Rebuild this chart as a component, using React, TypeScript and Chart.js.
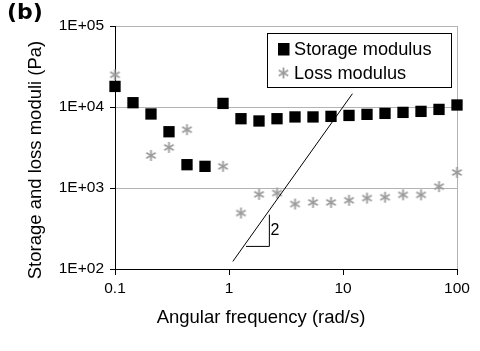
import React, { useEffect, useRef } from 'react';
import { Chart, registerables } from 'chart.js';

Chart.register(...registerables);

// ---- data ----
const frequencies = [0.1, 0.1438, 0.2069, 0.2976, 0.4281, 0.6158, 0.8859, 1.274, 1.833, 2.637, 3.793, 5.456, 7.848, 11.29, 16.24, 23.36, 33.6, 48.33, 69.52, 100];
const storageModulus = [17950, 11300, 8200, 4950, 1940, 1850, 11070, 7170, 6720, 7170, 7540, 7540, 7660, 7870, 8110, 8340, 8580, 8830, 9340, 10590];
const lossModulus = [25000, null, 2520, 3170, 5250, null, 1850, 491, 835, 866, 634, 664, 664, 705, 750, 770, 823, 823, 1040, 1555];
const slopeLineX = [1.08, 12.1];
const slopeLineY = [124, 14600];
const triangleX = [1.41, 2.26, 2.26];
const triangleY = [190, 190, 468];
const slopeLabel = '2';
const slopeLabelX = 2.53;
const slopeLabelY = 300;
const xTickValues = [0.1, 1, 10, 100];
const xTickLabels = ['0.1', '1', '10', '100'];
const yTickValues = [100, 1000, 10000, 100000];
const yTickLabels = ['1E+02', '1E+03', '1E+04', '1E+05'];
const seriesNames = ['Storage modulus', 'Loss modulus'];
const xTitle = 'Angular frequency (rad/s)';
const yTitle = 'Storage and loss moduli (Pa)';
const panelLabel = '(b)';

const FONT = "'Liberation Sans', Arial, sans-serif";
const GRID = '#b3b3b3';
const LOSS_COLOR = '#9c9c9c';

function makeAsterisk(color: string): HTMLCanvasElement {
  const c = document.createElement('canvas');
  c.width = 13;
  c.height = 13;
  const ctx = c.getContext('2d')!;
  ctx.strokeStyle = color;
  ctx.lineWidth = 1.8;
  const cx = 6.5, cy = 6.5, r = 5.5;
  for (let i = 0; i < 3; i++) {
    const a = Math.PI / 2 + (i * Math.PI) / 3;
    ctx.beginPath();
    ctx.moveTo(cx + r * Math.cos(a), cy + r * Math.sin(a));
    ctx.lineTo(cx - r * Math.cos(a), cy - r * Math.sin(a));
    ctx.stroke();
  }
  return c;
}

export default function App() {
  const ref = useRef<HTMLCanvasElement | null>(null);

  useEffect(() => {
    if (!ref.current) return;
    const asterisk = makeAsterisk(LOSS_COLOR);

    const overlay = {
      id: 'overlay',
      afterDraw(chart: any) {
        const ctx = chart.ctx;
        const xs = chart.scales.x;
        const ys = chart.scales.y;
        ctx.save();
        // panel label
        ctx.fillStyle = '#000';
        ctx.font = "bold 22px 'DejaVu Sans', sans-serif";
        ctx.textAlign = 'left';
        ctx.textBaseline = 'alphabetic';
        ctx.fillText(panelLabel, 7, 19);
        // x title
        ctx.font = `18.5px ${FONT}`;
        ctx.textAlign = 'center';
        ctx.fillText(xTitle, 261, 323);
        // y title
        ctx.save();
        ctx.translate(40.5, 160);
        ctx.rotate(-Math.PI / 2);
        ctx.fillText(yTitle, 0, 0);
        ctx.restore();
        // slope label
        ctx.font = `16px ${FONT}`;
        ctx.textBaseline = 'middle';
        ctx.fillText(slopeLabel, xs.getPixelForValue(slopeLabelX), ys.getPixelForValue(slopeLabelY));
        // legend
        const lx = 267.5, ly = 33.5, lw = 184, lh = 54;
        ctx.fillStyle = '#fff';
        ctx.fillRect(lx, ly, lw, lh);
        ctx.strokeStyle = '#000';
        ctx.lineWidth = 1;
        ctx.strokeRect(lx, ly, lw, lh);
        ctx.fillStyle = '#000';
        ctx.fillRect(278, 43, 11.5, 12.5);
        ctx.drawImage(asterisk, 283.5 - 6.5, 73 - 6.5);
        ctx.font = `18.2px ${FONT}`;
        ctx.textAlign = 'left';
        ctx.textBaseline = 'middle';
        ctx.fillStyle = '#000';
        ctx.fillText(seriesNames[0], 294, 49.5);
        ctx.fillText(seriesNames[1], 294, 73.5);
        ctx.restore();
      },
    };

    const chart = new Chart(ref.current, {
      type: 'scatter',
      data: {
        datasets: [
          {
            label: 'slope',
            data: slopeLineX.map((x, i) => ({ x, y: slopeLineY[i] })),
            showLine: true,
            borderColor: '#000',
            borderWidth: 1,
            pointRadius: 0,
            clip: false,
          } as any,
          {
            label: 'triangle',
            data: triangleX.map((x, i) => ({ x, y: triangleY[i] })),
            showLine: true,
            borderColor: '#000',
            borderWidth: 1,
            pointRadius: 0,
            clip: false,
          },
          {
            label: seriesNames[1],
            data: frequencies.map((x, i) => ({ x, y: lossModulus[i] })),
            pointStyle: asterisk,
            pointRadius: 6,
            showLine: false,
            clip: false,
          },
          {
            label: seriesNames[0],
            data: frequencies.map((x, i) => ({ x, y: storageModulus[i] })),
            pointStyle: 'rect',
            pointRadius: 8,
            borderWidth: 0,
            backgroundColor: '#000',
            borderColor: '#000',
            showLine: false,
            clip: false,
          },
        ],
      },
      options: {
        responsive: false,
        animation: false,
        layout: { padding: { top: 26, right: 23, left: 0, bottom: 0 } },
        plugins: { legend: { display: false }, tooltip: { enabled: false } },
        scales: {
          x: {
            type: 'logarithmic',
            position: 'bottom',
            min: 0.1,
            max: 100,
            afterBuildTicks: (axis: any) => {
              axis.ticks = xTickValues.map((v) => ({ value: v }));
            },
            afterFit: (scale: any) => {
              scale.height = 82;
              scale.paddingLeft = 0;
              scale.paddingRight = 0;
              scale.paddingTop = 0;
              scale.paddingBottom = 0;
            },
            ticks: {
              autoSkip: false,
              maxRotation: 0,
              padding: 4,
              color: '#000',
              font: { family: FONT, size: 15.5 },
              callback: (v: any) => {
                const i = xTickValues.indexOf(Number(v));
                return i >= 0 ? xTickLabels[i] : '';
              },
            },
            grid: {
              drawOnChartArea: true,
              color: (c: any) => (c.tick && c.tick.value === 100 ? GRID : 'rgba(0,0,0,0)'),
              tickColor: '#000',
              tickLength: 6,
            },
            border: { display: true, color: '#000', width: 1 },
          },
          y: {
            type: 'logarithmic',
            min: 100,
            max: 100000,
            afterBuildTicks: (axis: any) => {
              axis.ticks = yTickValues.map((v) => ({ value: v }));
            },
            afterFit: (scale: any) => {
              scale.width = 115;
              scale.paddingLeft = 0;
              scale.paddingRight = 0;
              scale.paddingTop = 0;
              scale.paddingBottom = 0;
            },
            ticks: {
              autoSkip: false,
              padding: 6,
              color: '#000',
              font: { family: FONT, size: 15.5 },
              callback: (v: any) => {
                const i = yTickValues.indexOf(Number(v));
                return i >= 0 ? yTickLabels[i] : '';
              },
            },
            grid: {
              drawOnChartArea: true,
              color: GRID,
              tickColor: '#000',
              tickLength: 5,
            },
            border: { display: true, color: '#000', width: 1 },
          },
        },
      },
      plugins: [overlay],
    } as any);

    return () => chart.destroy();
  }, []);

  return (
    <div style={{ position: 'fixed', left: 0, top: 0, width: 480, height: 351, background: '#fff' }}>
      <canvas ref={ref} width={480} height={351} style={{ width: 480, height: 351, display: 'block' }} />
    </div>
  );
}
